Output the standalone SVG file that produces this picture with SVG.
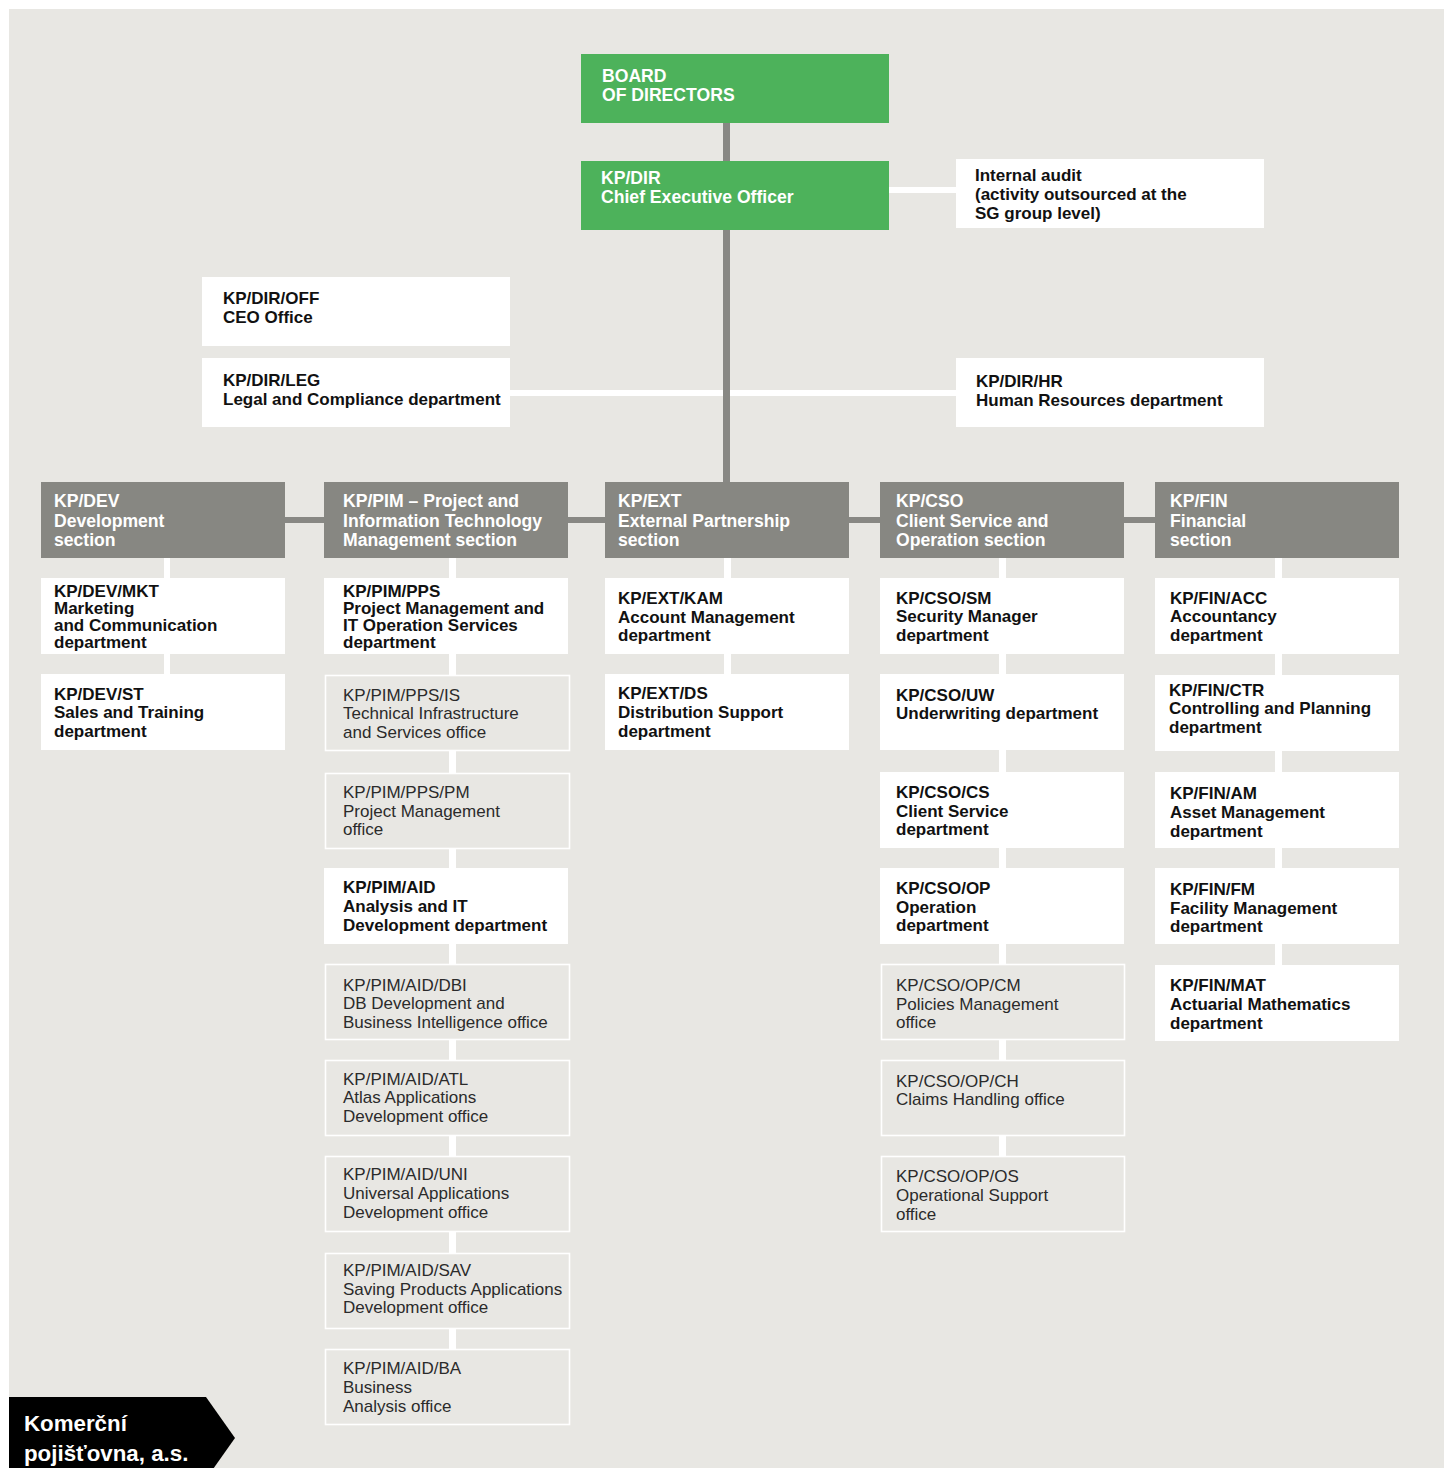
<svg xmlns="http://www.w3.org/2000/svg" width="1444" height="1468" viewBox="0 0 1444 1468">
<style>
text{font-family:"Liberation Sans",Arial,sans-serif;font-size:17px}
.b{font-weight:bold;fill:#111}
.w{font-weight:bold;fill:#fff;font-size:17.6px}
.r{fill:#2b2b2b}
.green{fill:#4db25b}
.sec{fill:#878782}
.dep{fill:#fff}
.off{fill:#e8e7e3;stroke:#fff;stroke-width:1.6}
.gl{fill:#888884}
.wl{fill:#fff}
</style>
<rect x="0" y="0" width="1444" height="1468" fill="#fff"/>
<rect x="9" y="9" width="1435" height="1459" fill="#e8e7e3"/>

<g id="connectors">
<rect class="wl" x="889" y="187" width="67" height="6"/>
<rect class="wl" x="510" y="390" width="446" height="6"/>
<rect class="gl" x="723" y="123" width="7" height="359"/>
<rect class="gl" x="285" y="517" width="870" height="6"/>
<rect class="wl" x="164" y="558" width="6" height="116"/>
<rect class="wl" x="449" y="558" width="7" height="791"/>
<rect class="wl" x="724" y="558" width="7" height="116"/>
<rect class="wl" x="999" y="558" width="7" height="598"/>
<rect class="wl" x="1275" y="558" width="7" height="407"/>
</g>

<g id="board"><rect class="green" x="581" y="54" width="308" height="69"/>
<text class="w"><tspan x="602" y="82">BOARD</tspan><tspan x="602" y="101">OF DIRECTORS</tspan></text></g>
<g id="ceo"><rect class="green" x="581" y="161" width="308" height="69"/>
<text class="w"><tspan x="601" y="184">KP/DIR</tspan><tspan x="601" y="203">Chief Executive Officer</tspan></text></g>
<g id="audit"><rect class="dep" x="956" y="159" width="308" height="69"/>
<text class="b"><tspan x="975" y="181">Internal audit</tspan><tspan x="975" y="200">(activity outsourced at the</tspan><tspan x="975" y="219">SG group level)</tspan></text></g>
<g id="off"><rect class="dep" x="202" y="277" width="308" height="69"/>
<text class="b"><tspan x="223" y="304">KP/DIR/OFF</tspan><tspan x="223" y="323">CEO Office</tspan></text></g>
<g id="leg"><rect class="dep" x="202" y="358" width="308" height="69"/>
<text class="b"><tspan x="223" y="386">KP/DIR/LEG</tspan><tspan x="223" y="405">Legal and Compliance department</tspan></text></g>
<g id="hr"><rect class="dep" x="956" y="358" width="308" height="69"/>
<text class="b"><tspan x="976" y="387">KP/DIR/HR</tspan><tspan x="976" y="406">Human Resources department</tspan></text></g>

<g id="dev"><rect class="sec" x="41" y="482" width="244" height="76"/>
<text class="w"><tspan x="54" y="507">KP/DEV</tspan><tspan x="54" y="527">Development</tspan><tspan x="54" y="546">section</tspan></text></g>
<g id="pim"><rect class="sec" x="324" y="482" width="244" height="76"/>
<text class="w"><tspan x="343" y="507">KP/PIM – Project and</tspan><tspan x="343" y="527">Information Technology</tspan><tspan x="343" y="546">Management section</tspan></text></g>
<g id="ext"><rect class="sec" x="605" y="482" width="244" height="76"/>
<text class="w"><tspan x="618" y="507">KP/EXT</tspan><tspan x="618" y="527">External Partnership</tspan><tspan x="618" y="546">section</tspan></text></g>
<g id="cso"><rect class="sec" x="880" y="482" width="244" height="76"/>
<text class="w"><tspan x="896" y="507">KP/CSO</tspan><tspan x="896" y="527">Client Service and</tspan><tspan x="896" y="546">Operation section</tspan></text></g>
<g id="fin"><rect class="sec" x="1155" y="482" width="244" height="76"/>
<text class="w"><tspan x="1170" y="507">KP/FIN</tspan><tspan x="1170" y="527">Financial</tspan><tspan x="1170" y="546">section</tspan></text></g>

<g id="dev-mkt"><rect class="dep" x="41" y="578" width="244" height="76"/>
<text class="b"><tspan x="54" y="597">KP/DEV/MKT</tspan><tspan x="54" y="614">Marketing</tspan><tspan x="54" y="631">and Communication</tspan><tspan x="54" y="648">department</tspan></text></g>
<g id="dev-st"><rect class="dep" x="41" y="674" width="244" height="76"/>
<text class="b"><tspan x="54" y="700">KP/DEV/ST</tspan><tspan x="54" y="718">Sales and Training</tspan><tspan x="54" y="737">department</tspan></text></g>

<g id="pim-pps"><rect class="dep" x="324" y="578" width="244" height="76"/>
<text class="b"><tspan x="343" y="597">KP/PIM/PPS</tspan><tspan x="343" y="614">Project Management and</tspan><tspan x="343" y="631">IT Operation Services</tspan><tspan x="343" y="648">department</tspan></text></g>
<g id="pim-pps-is"><rect class="off" x="325.5" y="675.5" width="244" height="75"/>
<text class="r"><tspan x="343" y="701">KP/PIM/PPS/IS</tspan><tspan x="343" y="719">Technical Infrastructure</tspan><tspan x="343" y="738">and Services office</tspan></text></g>
<g id="pim-pps-pm"><rect class="off" x="325.5" y="773.5" width="244" height="75"/>
<text class="r"><tspan x="343" y="798">KP/PIM/PPS/PM</tspan><tspan x="343" y="817">Project Management</tspan><tspan x="343" y="835">office</tspan></text></g>
<g id="pim-aid"><rect class="dep" x="324" y="868" width="244" height="76"/>
<text class="b"><tspan x="343" y="893">KP/PIM/AID</tspan><tspan x="343" y="912">Analysis and IT</tspan><tspan x="343" y="931">Development department</tspan></text></g>
<g id="pim-aid-dbi"><rect class="off" x="325.5" y="964.5" width="244" height="75"/>
<text class="r"><tspan x="343" y="991">KP/PIM/AID/DBI</tspan><tspan x="343" y="1009">DB Development and</tspan><tspan x="343" y="1028">Business Intelligence office</tspan></text></g>
<g id="pim-aid-atl"><rect class="off" x="325.5" y="1060.5" width="244" height="75"/>
<text class="r"><tspan x="343" y="1085">KP/PIM/AID/ATL</tspan><tspan x="343" y="1103">Atlas Applications</tspan><tspan x="343" y="1122">Development office</tspan></text></g>
<g id="pim-aid-uni"><rect class="off" x="325.5" y="1156.5" width="244" height="75"/>
<text class="r"><tspan x="343" y="1180">KP/PIM/AID/UNI</tspan><tspan x="343" y="1199">Universal Applications</tspan><tspan x="343" y="1218">Development office</tspan></text></g>
<g id="pim-aid-sav"><rect class="off" x="325.5" y="1253.5" width="244" height="75"/>
<text class="r"><tspan x="343" y="1276">KP/PIM/AID/SAV</tspan><tspan x="343" y="1295">Saving Products Applications</tspan><tspan x="343" y="1313">Development office</tspan></text></g>
<g id="pim-aid-ba"><rect class="off" x="325.5" y="1349.5" width="244" height="75"/>
<text class="r"><tspan x="343" y="1374">KP/PIM/AID/BA</tspan><tspan x="343" y="1393">Business</tspan><tspan x="343" y="1412">Analysis office</tspan></text></g>

<g id="ext-kam"><rect class="dep" x="605" y="578" width="244" height="76"/>
<text class="b"><tspan x="618" y="604">KP/EXT/KAM</tspan><tspan x="618" y="623">Account Management</tspan><tspan x="618" y="641">department</tspan></text></g>
<g id="ext-ds"><rect class="dep" x="605" y="674" width="244" height="76"/>
<text class="b"><tspan x="618" y="699">KP/EXT/DS</tspan><tspan x="618" y="718">Distribution Support</tspan><tspan x="618" y="737">department</tspan></text></g>

<g id="cso-sm"><rect class="dep" x="880" y="578" width="244" height="76"/>
<text class="b"><tspan x="896" y="604">KP/CSO/SM</tspan><tspan x="896" y="622">Security Manager</tspan><tspan x="896" y="641">department</tspan></text></g>
<g id="cso-uw"><rect class="dep" x="880" y="674" width="244" height="76"/>
<text class="b"><tspan x="896" y="701">KP/CSO/UW</tspan><tspan x="896" y="719">Underwriting department</tspan></text></g>
<g id="cso-cs"><rect class="dep" x="880" y="772" width="244" height="76"/>
<text class="b"><tspan x="896" y="798">KP/CSO/CS</tspan><tspan x="896" y="817">Client Service</tspan><tspan x="896" y="835">department</tspan></text></g>
<g id="cso-op"><rect class="dep" x="880" y="868" width="244" height="76"/>
<text class="b"><tspan x="896" y="894">KP/CSO/OP</tspan><tspan x="896" y="913">Operation</tspan><tspan x="896" y="931">department</tspan></text></g>
<g id="cso-op-cm"><rect class="off" x="881.5" y="964.5" width="243" height="75"/>
<text class="r"><tspan x="896" y="991">KP/CSO/OP/CM</tspan><tspan x="896" y="1010">Policies Management</tspan><tspan x="896" y="1028">office</tspan></text></g>
<g id="cso-op-ch"><rect class="off" x="881.5" y="1060.5" width="243" height="75"/>
<text class="r"><tspan x="896" y="1087">KP/CSO/OP/CH</tspan><tspan x="896" y="1105">Claims Handling office</tspan></text></g>
<g id="cso-op-os"><rect class="off" x="881.5" y="1156.5" width="243" height="75"/>
<text class="r"><tspan x="896" y="1182">KP/CSO/OP/OS</tspan><tspan x="896" y="1201">Operational Support</tspan><tspan x="896" y="1220">office</tspan></text></g>

<g id="fin-acc"><rect class="dep" x="1155" y="578" width="244" height="76"/>
<text class="b"><tspan x="1170" y="604">KP/FIN/ACC</tspan><tspan x="1170" y="622">Accountancy</tspan><tspan x="1170" y="641">department</tspan></text></g>
<g id="fin-ctr"><rect class="dep" x="1155" y="675" width="244" height="76"/>
<text class="b"><tspan x="1169" y="696">KP/FIN/CTR</tspan><tspan x="1169" y="714">Controlling and Planning</tspan><tspan x="1169" y="733">department</tspan></text></g>
<g id="fin-am"><rect class="dep" x="1155" y="772" width="244" height="76"/>
<text class="b"><tspan x="1170" y="799">KP/FIN/AM</tspan><tspan x="1170" y="818">Asset Management</tspan><tspan x="1170" y="837">department</tspan></text></g>
<g id="fin-fm"><rect class="dep" x="1155" y="868" width="244" height="76"/>
<text class="b"><tspan x="1170" y="895">KP/FIN/FM</tspan><tspan x="1170" y="914">Facility Management</tspan><tspan x="1170" y="932">department</tspan></text></g>
<g id="fin-mat"><rect class="dep" x="1155" y="965" width="244" height="76"/>
<text class="b"><tspan x="1170" y="991">KP/FIN/MAT</tspan><tspan x="1170" y="1010">Actuarial Mathematics</tspan><tspan x="1170" y="1029">department</tspan></text></g>

<g id="logo"><polygon points="9,1397 206,1397 235,1438 206,1479 9,1479" fill="#000"/>
<text class="w" style="font-size:22.3px"><tspan x="24" y="1431">Komerční</tspan><tspan x="24" y="1461">pojišťovna, a.s.</tspan></text></g>
</svg>
